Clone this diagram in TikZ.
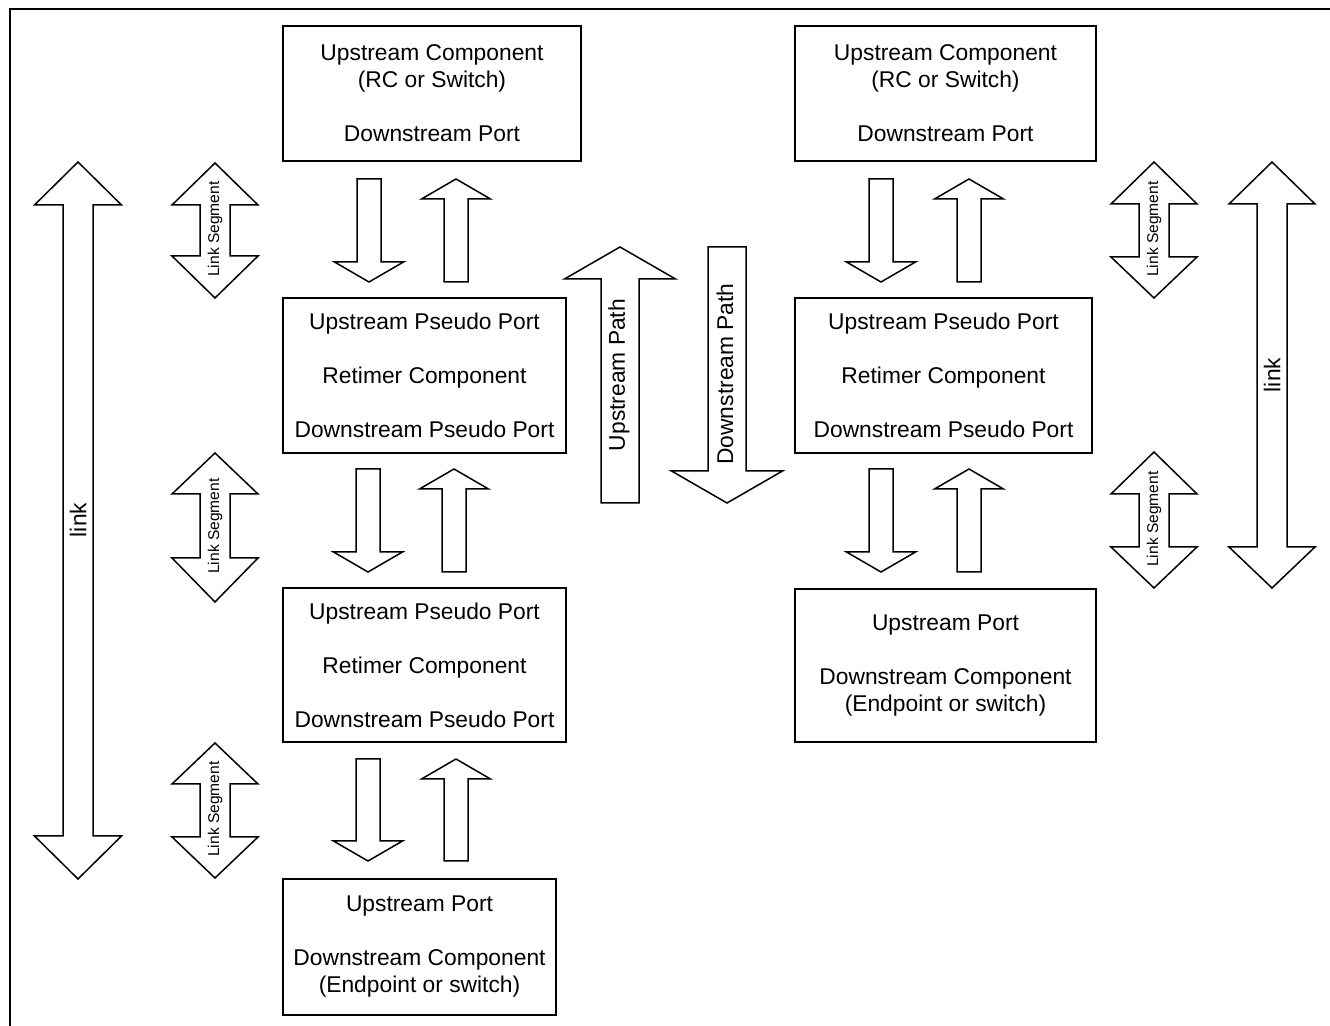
\documentclass[tikz,border=0pt]{standalone}
\usepackage{fontspec}
\setmainfont{Liberation Sans}

% block arrow with one head: x, tail y, head base y, tip y, shaft half width, head half width
\newcommand{\blockarrow}[6]{%
  \draw[arrowshape] ({#1-#5},#2) -- ({#1-#5},#3) -- ({#1-#6},#3) -- (#1,#4)
    -- ({#1+#6},#3) -- ({#1+#5},#3) -- ({#1+#5},#2) -- cycle;}
% block arrow with two heads: x, tip, base, base, tip, shaft half width, head half width
\newcommand{\twinarrow}[7]{%
  \draw[arrowshape] (#1,#2) -- ({#1+#7},#3) -- ({#1+#6},#3) -- ({#1+#6},#4)
    -- ({#1+#7},#4) -- (#1,#5) -- ({#1-#7},#4) -- ({#1-#6},#4)
    -- ({#1-#6},#3) -- ({#1-#7},#3) -- cycle;}

\begin{document}
\begin{tikzpicture}[x=0.5pt, y=-0.5pt,
    box/.style={
        rectangle, draw, line width=0.75pt, inner sep=0pt,
        align=center, font=\fontsize{11.4}{13.5}\selectfont
    },
    arrowshape/.style={draw, line width=0.75pt, line join=miter, fill=white},
    tag/.style={rotate=90, inner sep=0pt, font=\fontsize{11.4}{13.5}\selectfont},
    segtag/.style={rotate=90, inner sep=0pt, font=\fontsize{7.8}{9}\selectfont}
]
\useasboundingbox (0,0) rectangle (1330,1026);
\fill[white] (0,0) rectangle (1330,1026);

% Frame
\draw[line width=1pt] (10,1026) -- (10,9) -- (1330,9);

% Left chain
\node[box, minimum width=149pt, minimum height=67.5pt] (usc1) at (432,93.5) {Upstream Component\\(RC or Switch)\\[13.5pt]Downstream Port};
\node[box, minimum width=141.5pt, minimum height=77.5pt] (ret1) at (424.5,375.5) {Upstream Pseudo Port\\[13.5pt]Retimer Component\\[13.5pt]Downstream Pseudo Port};
\node[box, minimum width=141.5pt, minimum height=77pt] (ret2) at (424.5,665) {Upstream Pseudo Port\\[13.5pt]Retimer Component\\[13.5pt]Downstream Pseudo Port};
\node[box, minimum width=136.5pt, minimum height=68pt] (dsc1) at (419.5,947) {Upstream Port\\[13.5pt]Downstream Component\\(Endpoint or switch)};

\blockarrow{369}{179}{262}{282}{12}{34.5}
\blockarrow{456}{282}{199}{179}{12}{34.5}
\blockarrow{368}{469}{552}{572}{12}{34.5}
\blockarrow{454}{572}{489}{469}{12}{34.5}
\blockarrow{368}{759}{841}{861}{12}{34.5}
\blockarrow{456}{861}{779}{759}{12}{34.5}

% Right chain
\node[box, minimum width=150.5pt, minimum height=67.5pt] (usc2) at (945.5,93.5) {Upstream Component\\(RC or Switch)\\[13.5pt]Downstream Port};
\node[box, minimum width=148.5pt, minimum height=77.5pt] (ret3) at (943.5,375.5) {Upstream Pseudo Port\\[13.5pt]Retimer Component\\[13.5pt]Downstream Pseudo Port};
\node[box, minimum width=150.5pt, minimum height=76.5pt] (dsc2) at (945.5,665.5) {Upstream Port\\[13.5pt]Downstream Component\\(Endpoint or switch)};

\blockarrow{881}{179}{262}{282}{12}{34.5}
\blockarrow{969}{282}{199}{179}{12}{34.5}
\blockarrow{881}{469}{552}{572}{12}{34.5}
\blockarrow{969}{572}{489}{469}{12}{34.5}

% Path directions
\blockarrow{620}{503}{279}{247}{19}{55.5}
\blockarrow{727}{247}{471}{503}{19}{55.5}
\node[tag] (uppath) at (619,375) {Upstream Path};
\node[tag] (downpath) at (725,374) {Downstream Path};

% Link segments
\twinarrow{215}{163}{205}{256}{298}{15}{43}
\twinarrow{215}{453}{494}{558}{602}{15}{43}
\twinarrow{215}{743}{784}{837}{878}{15}{43}
\twinarrow{1154}{162}{204}{257}{298}{15}{43}
\twinarrow{1154}{452}{494}{547}{588}{15}{43}
\node[segtag] (seg1) at (215,229) {Link Segment};
\node[segtag] (seg2) at (215,526) {Link Segment};
\node[segtag] (seg3) at (215,809) {Link Segment};
\node[segtag] (seg4) at (1154,229) {Link Segment};
\node[segtag] (seg5) at (1154,519) {Link Segment};

% Whole links
\twinarrow{78}{162}{205}{836}{879}{15}{43.5}
\twinarrow{1272}{162}{204}{547}{588}{15}{43}
\node[tag] (link1) at (78,520) {link};
\node[tag] (link2) at (1272,375) {link};

\end{tikzpicture}
\end{document}
